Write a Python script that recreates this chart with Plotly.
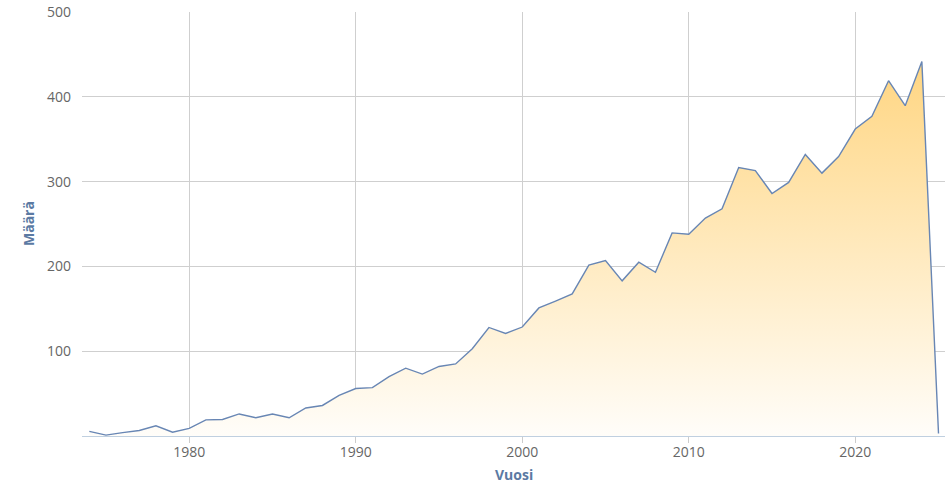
import plotly.graph_objects as go

years = list(range(1974, 2026))
counts = [5.5, 1, 4, 6.5, 12, 4.5, 9, 19, 19.5, 26, 21.5, 26, 21.5, 33, 36, 48, 56, 57,
          70, 80, 73, 82, 85, 103, 128, 121, 128.5, 151, 159, 167.5, 201.5, 207, 183, 205, 193,
          239.5, 238, 257, 268, 316.5, 313, 286, 299, 332, 310, 329.5, 362, 377, 419, 389.5, 441.5, 3]

x_ticks = [1980, 1990, 2000, 2010, 2020]
y_ticks = [100, 200, 300, 400, 500]

fig = go.Figure()
fig.add_trace(go.Scatter(
    x=years, y=counts, mode="lines",
    line=dict(color="#6886b4", width=1.4),
    fill="tozeroy",
    fillgradient=dict(type="vertical",
                      colorscale=[[0, "rgb(255,253,249)"], [1, "rgb(255,212,125)"]],
                      start=0, stop=460),
    hoverinfo="x+y",
))

fig.update_layout(
    width=945, height=483,
    margin=dict(l=82, r=0, t=12, b=47, autoexpand=False),
    plot_bgcolor="white", paper_bgcolor="white",
    showlegend=False,
    font=dict(family="Open Sans, sans-serif", size=13, color="#666666"),
    annotations=[
        dict(text="<b>Vuosi</b>", xref="paper", yref="paper", x=0.5, y=0, yshift=-38,
             xanchor="center", yanchor="middle", showarrow=False,
             font=dict(size=14, color="#5b7aa3")),
        dict(text="<b>Määrä</b>", xref="paper", yref="paper", x=0, y=0.5, xshift=-54,
             xanchor="center", yanchor="middle", showarrow=False, textangle=-90,
             font=dict(size=14, color="#5b7aa3")),
    ],
)
fig.update_xaxes(
    range=[1973.56, 2025.39], automargin=False,
    tickvals=x_ticks, ticktext=[str(v) for v in x_ticks],
    showgrid=True, gridcolor="#cfcfcf", gridwidth=1,
    showline=True, linecolor="#c0d0e0", linewidth=1,
    ticks="outside", ticklen=6, tickcolor="#cccccc",
    ticklabelstandoff=-3,
    tickfont=dict(size=14, color="#666666"),
    zeroline=False,
)
fig.update_yaxes(
    range=[0, 500], automargin=False,
    tickvals=y_ticks, ticktext=[str(v) for v in y_ticks],
    showgrid=True, gridcolor="#cfcfcf", gridwidth=1,
    showline=False, zeroline=False,
    ticks="", ticklabelstandoff=10,
    tickfont=dict(size=14, color="#666666"),
)

fig.write_html("out.html", config={"displayModeBar": False},
               post_script="document.body.style.margin='0';document.body.style.overflow='hidden';")
